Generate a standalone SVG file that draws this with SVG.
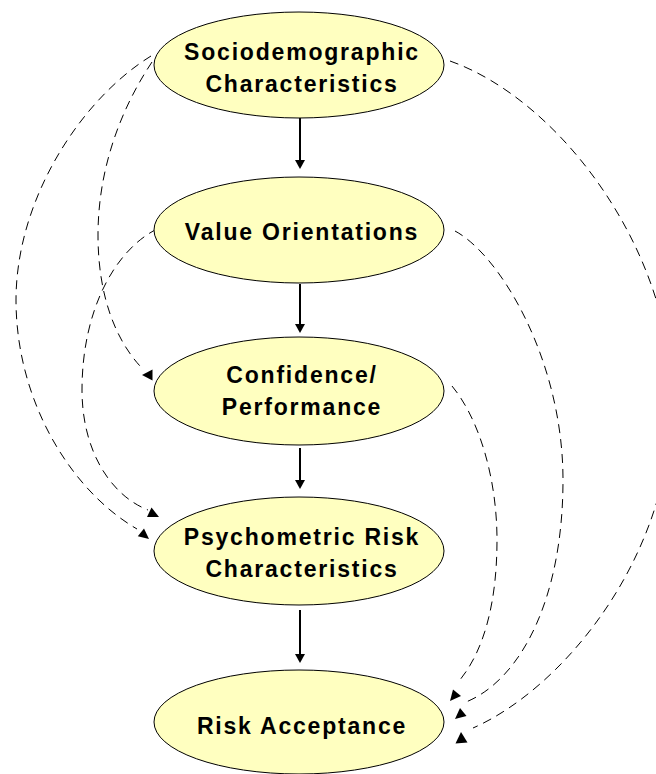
<svg xmlns="http://www.w3.org/2000/svg" width="656" height="774" viewBox="0 0 656 774">
<style>
.node ellipse{fill:#FFFFC0;stroke:#000;stroke-width:1}
.node text{font-family:"Liberation Sans",Arial,sans-serif;font-weight:bold;font-size:23px;letter-spacing:1.8px;text-anchor:middle;fill:#000}
.solid{stroke:#000;stroke-width:2;fill:none}
.dash{stroke:#000;stroke-width:1;fill:none;stroke-dasharray:9 6}
.head{fill:#000;stroke:none}
</style>
<rect width="656" height="774" fill="#fff"/>
<g id="connectors">
<line class="solid" x1="300" y1="118" x2="300" y2="161"/>
<polygon class="head" points="295,160 305,160 300,169"/>
<line class="solid" x1="300" y1="284" x2="300" y2="325"/>
<polygon class="head" points="295,324 305,324 300,333"/>
<line class="solid" x1="300" y1="448" x2="300" y2="481"/>
<polygon class="head" points="295,480 305,480 300,489"/>
<line class="solid" x1="300" y1="610" x2="300" y2="655"/>
<polygon class="head" points="295,654 305,654 300,663"/>
<path class="dash" d="M151,56 C80,100 16,200 16,300 C16,400 70,490 137,529"/>
<polygon class="head" points="149,539 144,528.5 137.8,536.3"/>
<path class="dash" d="M152,62 C120,110 98,170 98,235 C98,300 118,342 140,366"/>
<polygon class="head" points="142,375 152.5,369.5 152.5,380.5"/>
<path class="dash" d="M157,229 C115,250 82,310 82,390 C82,450 110,495 148,510"/>
<polygon class="head" points="159,517 151.5,507.5 147,517"/>
<path class="dash" d="M450,61 C560,100 672,250 672,400 C672,560 560,690 473,728"/>
<polygon class="head" points="461,732 455.5,743.5 467.5,742.5"/>
<path class="dash" d="M455,231 C500,255 563,360 563,480 C563,600 520,680 466,702"/>
<polygon class="head" points="455,719 466.5,716 460,708"/>
<path class="dash" d="M452,386 C480,420 497,480 497,540 C497,600 485,650 459,681"/>
<polygon class="head" points="450,701 461,696 453,689.5"/>
</g>
<g id="n1" class="node"><ellipse cx="299" cy="65" rx="145" ry="53"/><text x="302" y="60">Sociodemographic</text><text x="302" y="92">Characteristics</text></g>
<g id="n2" class="node"><ellipse cx="299" cy="230" rx="145" ry="53"/><text x="302" y="240">Value Orientations</text></g>
<g id="n3" class="node"><ellipse cx="299" cy="391" rx="145" ry="54"/><text x="302" y="383">Confidence/</text><text x="302" y="415">Performance</text></g>
<g id="n4" class="node"><ellipse cx="299" cy="551" rx="145" ry="54"/><text x="302" y="545">Psychometric Risk</text><text x="302" y="577">Characteristics</text></g>
<g id="n5" class="node"><ellipse cx="299" cy="722" rx="145" ry="52"/><text x="302" y="734">Risk Acceptance</text></g>
</svg>
